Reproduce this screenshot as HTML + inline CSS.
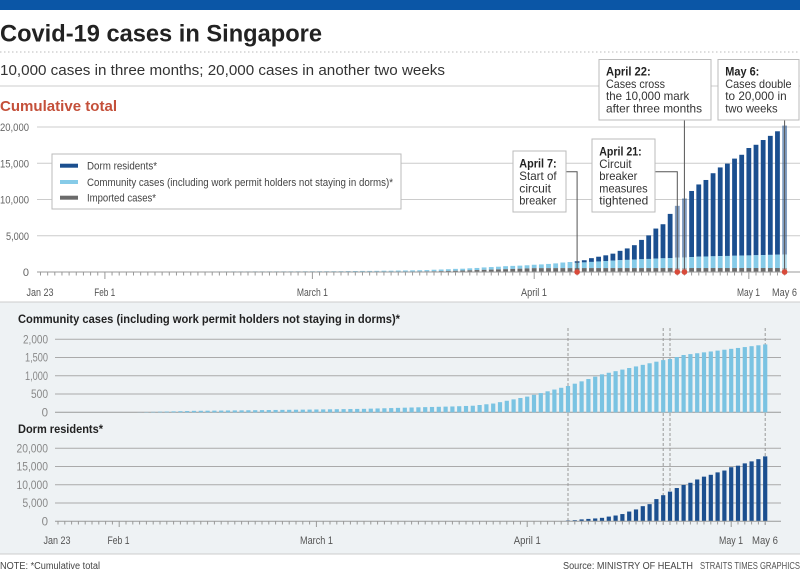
<!DOCTYPE html>
<html><head><meta charset="utf-8"><style>
html,body{margin:0;padding:0;background:#fff;}
svg{display:block;font-family:"Liberation Sans",Arial,sans-serif;}
</style></head><body>
<svg id="s" width="800" height="570" viewBox="0 0 800 570" xmlns="http://www.w3.org/2000/svg">
<rect x="0" y="0" width="800" height="570" fill="#fff"/>
<rect x="0" y="0" width="800" height="10" fill="#0b56a6"/>
<text x="0" y="41.5" font-size="24" font-weight="bold" fill="#222" textLength="322" lengthAdjust="spacingAndGlyphs">Covid-19 cases in Singapore</text>
<line x1="0" y1="52" x2="800" y2="52" stroke="#bbb" stroke-dasharray="1.5,2.5"/>
<text x="0" y="75" font-size="15" fill="#333" textLength="445" lengthAdjust="spacingAndGlyphs">10,000 cases in three months; 20,000 cases in another two weeks</text>
<line x1="0" y1="86" x2="800" y2="86" stroke="#ccc"/>
<text x="0" y="111" font-size="15" font-weight="bold" fill="#c4503a" textLength="117" lengthAdjust="spacingAndGlyphs">Cumulative total</text>

<g stroke="#ccc" stroke-width="1">
<line x1="37" y1="127" x2="800" y2="127"/>
<line x1="37" y1="163.25" x2="800" y2="163.25"/>
<line x1="37" y1="199.5" x2="800" y2="199.5"/>
<line x1="37" y1="235.75" x2="800" y2="235.75"/>
</g>
<g font-size="11" fill="#666" text-anchor="end">
<text x="29" y="131" textLength="29" lengthAdjust="spacingAndGlyphs">20,000</text>
<text x="29" y="167.25" textLength="29" lengthAdjust="spacingAndGlyphs">15,000</text>
<text x="29" y="203.5" textLength="29" lengthAdjust="spacingAndGlyphs">10,000</text>
<text x="29" y="239.75" textLength="23" lengthAdjust="spacingAndGlyphs">5,000</text>
<text x="29" y="276">0</text>
</g>

<rect x="52" y="154" width="349" height="55" fill="#fff" stroke="#bbb"/>
<rect x="60" y="163.7" width="18" height="4" fill="#1b4f8f"/>
<rect x="60" y="180" width="18" height="4" fill="#86cbe8"/>
<rect x="60" y="195.7" width="18" height="4" fill="#6b6b6b"/>
<g font-size="11" fill="#444">
<text x="87" y="169.7" textLength="70" lengthAdjust="spacingAndGlyphs">Dorm residents*</text>
<text x="87" y="186" textLength="306" lengthAdjust="spacingAndGlyphs">Community cases (including work permit holders not staying in dorms)*</text>
<text x="87" y="201.7" textLength="69" lengthAdjust="spacingAndGlyphs">Imported cases*</text>
</g>

<rect x="0" y="302" width="800" height="252" fill="#eef2f4"/>
<line x1="0" y1="302" x2="800" y2="302" stroke="#ccc"/>
<line x1="0" y1="554" x2="800" y2="554" stroke="#ccc"/>

<text x="18" y="323" font-size="12" font-weight="bold" fill="#222" textLength="382" lengthAdjust="spacingAndGlyphs">Community cases (including work permit holders not staying in dorms)*</text>
<text x="18" y="433" font-size="12" font-weight="bold" fill="#222" textLength="85" lengthAdjust="spacingAndGlyphs">Dorm residents*</text>

<g stroke="#aaa" stroke-width="1">
<line x1="55" y1="339.3" x2="781" y2="339.3"/>
<line x1="55" y1="357.5" x2="781" y2="357.5"/>
<line x1="55" y1="375.8" x2="781" y2="375.8"/>
<line x1="55" y1="394" x2="781" y2="394"/>
<line x1="55" y1="412.3" x2="781" y2="412.3" stroke="#999"/>
<line x1="55" y1="448.3" x2="781" y2="448.3"/>
<line x1="55" y1="466.5" x2="781" y2="466.5"/>
<line x1="55" y1="484.8" x2="781" y2="484.8"/>
<line x1="55" y1="503" x2="781" y2="503"/>
</g>
<g font-size="11.5" fill="#888" text-anchor="end">
<text x="48" y="343.3" textLength="25" lengthAdjust="spacingAndGlyphs">2,000</text>
<text x="48" y="361.5" textLength="23" lengthAdjust="spacingAndGlyphs">1,500</text>
<text x="48" y="379.8" textLength="23" lengthAdjust="spacingAndGlyphs">1,000</text>
<text x="48" y="398" textLength="17" lengthAdjust="spacingAndGlyphs">500</text>
<text x="48" y="416.3">0</text>
<text x="48" y="452.3" textLength="31.5" lengthAdjust="spacingAndGlyphs">20,000</text>
<text x="48" y="470.5" textLength="31.5" lengthAdjust="spacingAndGlyphs">15,000</text>
<text x="48" y="488.8" textLength="31.5" lengthAdjust="spacingAndGlyphs">10,000</text>
<text x="48" y="507" textLength="25.5" lengthAdjust="spacingAndGlyphs">5,000</text>
<text x="48" y="525.3">0</text>
</g>

<g stroke="#999" stroke-dasharray="3,2" stroke-width="1">
<line x1="568" y1="328" x2="568" y2="525"/>
<line x1="663.2" y1="328" x2="663.2" y2="525"/>
<line x1="670" y1="328" x2="670" y2="525"/>
<line x1="765.2" y1="328" x2="765.2" y2="525"/>
</g>

<g id="bars"></g>

<line x1="37" y1="272" x2="800" y2="272" stroke="#999"/>
<line x1="55" y1="521.3" x2="781" y2="521.3" stroke="#999"/>
<g id="ticks"></g>

<g font-size="11" fill="#555" text-anchor="middle">
<text x="40" y="296" textLength="27" lengthAdjust="spacingAndGlyphs">Jan 23</text>
<text x="104.7" y="296" textLength="21" lengthAdjust="spacingAndGlyphs">Feb 1</text>
<text x="312.4" y="296" textLength="31" lengthAdjust="spacingAndGlyphs">March 1</text>
<text x="534" y="296" textLength="26" lengthAdjust="spacingAndGlyphs">April 1</text>
<text x="748.5" y="296" textLength="23" lengthAdjust="spacingAndGlyphs">May 1</text>
<text x="784.5" y="296" textLength="25" lengthAdjust="spacingAndGlyphs">May 6</text>
<text x="57" y="544" textLength="27" lengthAdjust="spacingAndGlyphs">Jan 23</text>
<text x="118.5" y="544" textLength="22" lengthAdjust="spacingAndGlyphs">Feb 1</text>
<text x="316.5" y="544" textLength="33" lengthAdjust="spacingAndGlyphs">March 1</text>
<text x="527.3" y="544" textLength="27" lengthAdjust="spacingAndGlyphs">April 1</text>
<text x="731" y="544" textLength="24" lengthAdjust="spacingAndGlyphs">May 1</text>
<text x="765" y="544" textLength="26" lengthAdjust="spacingAndGlyphs">May 6</text>
</g>

<g stroke="#555" stroke-width="1" fill="none">
<polyline points="565.7,171.7 577.1,171.7 577.1,272"/>
<polyline points="655,171.7 677.3,171.7 677.3,272"/>
<line x1="684.4" y1="120" x2="684.4" y2="272"/>
<line x1="784.6" y1="120" x2="784.6" y2="272"/>
</g>
<g id="dots"></g>

<g fill="#fff" stroke="#bbb" stroke-width="1">
<rect x="599" y="59.5" width="112" height="60.5"/>
<rect x="718" y="59.5" width="81" height="60.5"/>
<rect x="513" y="151" width="53" height="61"/>
<rect x="592" y="139" width="63" height="73"/>
</g>
<g font-size="12" fill="#333">
<text x="606" y="75.7" font-weight="bold" fill="#222" textLength="44.7" lengthAdjust="spacingAndGlyphs">April 22:</text>
<text x="606" y="88" textLength="59" lengthAdjust="spacingAndGlyphs">Cases cross</text>
<text x="606" y="100.2" textLength="83.3" lengthAdjust="spacingAndGlyphs">the 10,000 mark</text>
<text x="606" y="112.4" textLength="96" lengthAdjust="spacingAndGlyphs">after three months</text>
<text x="725.3" y="75.7" font-weight="bold" fill="#222" textLength="34" lengthAdjust="spacingAndGlyphs">May 6:</text>
<text x="725.3" y="88" textLength="66.3" lengthAdjust="spacingAndGlyphs">Cases double</text>
<text x="725.3" y="100.2" textLength="61.3" lengthAdjust="spacingAndGlyphs">to 20,000 in</text>
<text x="725.3" y="112.4" textLength="52.3" lengthAdjust="spacingAndGlyphs">two weeks</text>
<text x="519.3" y="167.3" font-weight="bold" fill="#222" textLength="37.3" lengthAdjust="spacingAndGlyphs">April 7:</text>
<text x="519.3" y="180" textLength="37.3" lengthAdjust="spacingAndGlyphs">Start of</text>
<text x="519.3" y="192.3" textLength="31.7" lengthAdjust="spacingAndGlyphs">circuit</text>
<text x="519.3" y="204.7" textLength="37.3" lengthAdjust="spacingAndGlyphs">breaker</text>
<text x="599.3" y="155.7" font-weight="bold" fill="#222" textLength="42.3" lengthAdjust="spacingAndGlyphs">April 21:</text>
<text x="599.3" y="168" textLength="32.3" lengthAdjust="spacingAndGlyphs">Circuit</text>
<text x="599.3" y="180.2" textLength="38" lengthAdjust="spacingAndGlyphs">breaker</text>
<text x="599.3" y="192.4" textLength="48.3" lengthAdjust="spacingAndGlyphs">measures</text>
<text x="599.3" y="204.7" textLength="49" lengthAdjust="spacingAndGlyphs">tightened</text>
</g>

<text x="0" y="569" font-size="10" fill="#444" textLength="100" lengthAdjust="spacingAndGlyphs">NOTE: *Cumulative total</text>
<text x="563" y="569" font-size="10" fill="#444" textLength="130" lengthAdjust="spacingAndGlyphs">Source: MINISTRY OF HEALTH</text>
<text x="700" y="569" font-size="10" fill="#555" textLength="100" lengthAdjust="spacingAndGlyphs">STRAITS TIMES GRAPHICS</text>
</svg>
<script>
(function(){
var NS="http://www.w3.org/2000/svg";
var T=[1,3,3,4,5,7,10,13,16,
18,18,18,24,28,30,33,40,43,45,47,50,58,67,72,75,77,81,84,85,86,89,89,90,91,93,96,98,102,
106,108,110,112,117,130,138,150,150,160,178,178,200,212,226,243,266,313,345,385,432,455,509,558,631,683,732,802,844,879,926,
1000,1049,1114,1189,1309,1375,1481,1623,1910,2108,2299,2532,2918,3252,3699,4427,5050,5992,6588,8014,9125,10141,11178,12075,12693,13624,14423,14951,15641,16169,
17101,17548,18205,18778,19410,20198];
var CK=[[0,0],[11,0],[12,3],[20,40],[30,60],[37,75],[45,95],[53,137],[58,160],[61,180],[64,240],[69,430],[75,720],[80,1040],[89,1430],[90,1460],[92,1570],[97,1690],[104,1860]];
var IK=[[0,1],[8,10],[20,24],[37,24],[45,40],[51,60],[55,100],[58,170],[62,300],[66,420],[69,530],[75,540],[104,550]];
function ip(kp,d){for(var i=0;i<kp.length-1;i++){var a=kp[i][0],va=kp[i][1],b=kp[i+1][0],vb=kp[i+1][1];if(d>=a&&d<=b)return va+(vb-va)*(d-a)/(b-a);}return kp[kp.length-1][1];}
function el(p,tag,at){var e=document.createElementNS(NS,tag);for(var k in at)e.setAttribute(k,at[k]);p.appendChild(e);return e;}
var bars=document.getElementById("bars"),ticks=document.getElementById("ticks"),dots=document.getElementById("dots");
var kt=36.25/5000, kc=18.25/500, kd=18.25/5000;
var hl={89:1,90:1,104:1};
for(var d=0;d<105;d++){
  var t=T[d],I=Math.min(ip(IK,d),t),C=ip(CK,d),c2,D;
  if(d<75){c2=Math.max(0,t-I);D=0;}else{c2=C;D=Math.max(0,t-I-C);}
  var xt=40.5+7.155*d, w=4.8;
  var g=bars;
  if(hl[d]){g=el(bars,"g",{opacity:"0.55"});}
  var hI=I*kt,hC=c2*kt,hD=D*kt;
  if(hD>0)el(g,"rect",{x:xt-w/2,y:272-hI-hC-hD,width:w,height:hD,fill:"#1b4f8f"});
  if(hC>0)el(g,"rect",{x:xt-w/2,y:272-hI-hC,width:w,height:hC,fill:"#86cbe8"});
  if(hI>0)el(g,"rect",{x:xt-w/2,y:272-hI,width:w,height:hI,fill:"#6b6b6b"});
  var xl=58+6.8*d, wl=4.2;
  var Cl=C;
  if(Cl>0)el(bars,"rect",{x:xl-wl/2,y:412.3-Cl*kc,width:wl,height:Cl*kc,fill:"#7ac3e2"});
  var Dl=(d>=75)?Math.max(0,t-I-C):0;
  if(Dl>0)el(bars,"rect",{x:xl-wl/2,y:521.3-Dl*kd,width:wl,height:Dl*kd,fill:"#1b4f8f"});
  var mon=(d==9||d==38||d==69||d==99);
  el(ticks,"line",{x1:xt,y1:272,x2:xt,y2:mon?279:275.5,stroke:"#999","stroke-width":"1"});
  el(ticks,"line",{x1:xl,y1:521.3,x2:xl,y2:mon?527:524.5,stroke:"#999","stroke-width":"1"});
}
[75,89,90,104].forEach(function(d){el(dots,"circle",{cx:40.5+7.155*d,cy:272,r:2.8,fill:"#d84a3a"});});
})();
</script>
</body></html>
